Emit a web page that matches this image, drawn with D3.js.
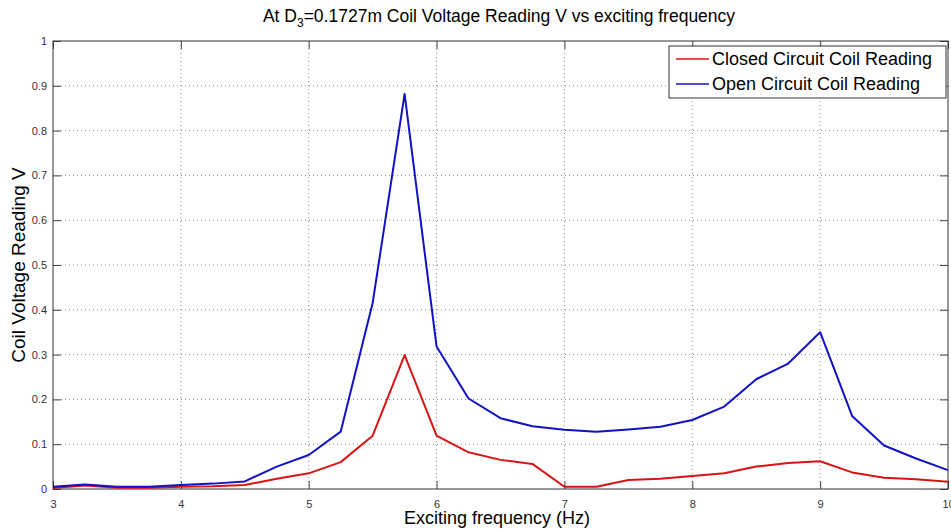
<!doctype html>
<html>
<head>
<meta charset="utf-8"/>
<title>Coil Voltage Reading vs exciting frequency</title>
<script src="https://d3js.org/d3.v7.min.js"></script>
<style>
  body { margin: 0; background: #fff; }
  text { font-family: "Liberation Sans", Arial, sans-serif; }
</style>
</head>
<body>
<div id="chart"></div>
<script>
// exciting frequency (Hz)
var freq = [3, 3.25, 3.5, 3.75, 4, 4.25, 4.5, 4.75, 5, 5.25, 5.5, 5.75, 6, 6.25, 6.5, 6.75,
            7, 7.25, 7.5, 7.75, 8, 8.25, 8.5, 8.75, 9, 9.25, 9.5, 9.75, 10];
// closed circuit coil reading (V)
var closedV = [0.002, 0.008, 0.003, 0.003, 0.005, 0.006, 0.009, 0.023, 0.035, 0.06, 0.119, 0.299, 0.119, 0.082, 0.065, 0.056,
               0.005, 0.005, 0.02, 0.023, 0.029, 0.035, 0.05, 0.058, 0.062, 0.037, 0.025, 0.022, 0.016];
// open circuit coil reading (V)
var openV = [0.005, 0.01, 0.005, 0.005, 0.009, 0.012, 0.017, 0.05, 0.076, 0.128, 0.415, 0.882, 0.318, 0.202, 0.158, 0.14,
             0.132, 0.128, 0.133, 0.139, 0.154, 0.184, 0.245, 0.28, 0.35, 0.163, 0.097, 0.068, 0.042];
var xTicks = [3, 4, 5, 6, 7, 8, 9, 10];
var yTicks = [0, 0.1, 0.2, 0.3, 0.4, 0.5, 0.6, 0.7, 0.8, 0.9, 1];
var seriesNames = ["Closed Circuit Coil Reading", "Open Circuit Coil Reading"];
var seriesColors = ["#d81414", "#1212c4"];

var W = 951, H = 529;
var pLeft = 53, pRight = 948, pTop = 41, pBottom = 489;

var svg = d3.select("#chart").append("svg")
    .attr("width", W)
    .attr("height", H);

var x = d3.scaleLinear().domain([3, 10]).range([pLeft, pRight]);
var y = d3.scaleLinear().domain([0, 1]).range([pBottom, pTop]);

// grid
var grid = svg.append("g");
grid.selectAll(".gx").data(xTicks.slice(1, -1)).enter().append("line")
    .attr("x1", d => x(d)).attr("x2", d => x(d))
    .attr("y1", pTop).attr("y2", pBottom)
    .attr("stroke", "#888").attr("stroke-width", 1).attr("stroke-dasharray", "1,3");
grid.selectAll(".gy").data(yTicks.slice(1, -1)).enter().append("line")
    .attr("x1", pLeft).attr("x2", pRight)
    .attr("y1", d => y(d)).attr("y2", d => y(d))
    .attr("stroke", "#888").attr("stroke-width", 1).attr("stroke-dasharray", "1,3");

// axes (ticks pointing inward, like matlab)
var tickLen = 8;
var xAxis = svg.append("g").attr("transform", "translate(0," + pBottom + ")")
    .call(d3.axisBottom(x).tickValues(xTicks).tickSize(-tickLen).tickPadding(11).tickFormat(d3.format("d")));
var yAxis = svg.append("g").attr("transform", "translate(" + pLeft + ",0)")
    .call(d3.axisLeft(y).tickValues(yTicks).tickSize(-tickLen).tickPadding(6).tickFormat(d => d === 0 ? "0" : d === 1 ? "1" : d3.format(".1f")(d)));
var xTop = svg.append("g").attr("transform", "translate(0," + pTop + ")")
    .call(d3.axisTop(x).tickValues(xTicks).tickSize(-tickLen).tickFormat(""));
var yRight = svg.append("g").attr("transform", "translate(" + pRight + ",0)")
    .call(d3.axisRight(y).tickValues(yTicks).tickSize(-tickLen).tickFormat(""));

[xAxis, yAxis, xTop, yRight].forEach(function (g) {
  g.select(".domain").remove();
  g.selectAll(".tick line").attr("stroke", "#444");
  g.selectAll(".tick text").attr("fill", "#333").style("font-size", "11px")
    .style("font-family", "'Liberation Sans', Arial, sans-serif");
});

// frame
svg.append("rect")
    .attr("x", pLeft).attr("y", pTop)
    .attr("width", pRight - pLeft).attr("height", pBottom - pTop)
    .attr("fill", "none").attr("stroke", "#333").attr("stroke-width", 1);

// lines
var seriesData = [closedV, openV];
var line = d3.line().x((d, i) => x(freq[i])).y(d => y(d));
svg.selectAll(".series").data(seriesData).enter().append("path")
    .attr("d", d => line(d))
    .attr("fill", "none")
    .attr("stroke", (d, i) => seriesColors[i])
    .attr("stroke-width", 2)
    .attr("stroke-linejoin", "round");

// legend
var lg = svg.append("g");
lg.append("rect")
    .attr("x", 669).attr("y", 46).attr("width", 277).attr("height", 52)
    .attr("fill", "#fff").attr("stroke", "#333");
seriesNames.forEach(function (name, i) {
  var ly = 59 + i * 25;
  lg.append("line").attr("x1", 676).attr("x2", 709).attr("y1", ly).attr("y2", ly)
    .attr("stroke", seriesColors[i]).attr("stroke-width", 1.5);
  lg.append("text").attr("x", 712).attr("y", ly + 6)
    .style("font-size", "18px").attr("fill", "#000").text(name);
});

// title
var title = svg.append("text")
    .attr("x", 499).attr("y", 22)
    .attr("text-anchor", "middle")
    .style("font-size", "17.5px");
title.append("tspan").text("At D");
title.append("tspan").attr("dy", 5).style("font-size", "12px").text("3");
title.append("tspan").attr("dy", -5).text("=0.1727m Coil Voltage Reading V vs exciting frequency");

// axis labels
svg.append("text")
    .attr("x", 497).attr("y", 524)
    .attr("text-anchor", "middle")
    .style("font-size", "18px")
    .text("Exciting frequency (Hz)");
svg.append("text")
    .attr("transform", "translate(25,265) rotate(-90)")
    .attr("text-anchor", "middle")
    .style("font-size", "19px")
    .text("Coil Voltage Reading V");
</script>
</body>
</html>
